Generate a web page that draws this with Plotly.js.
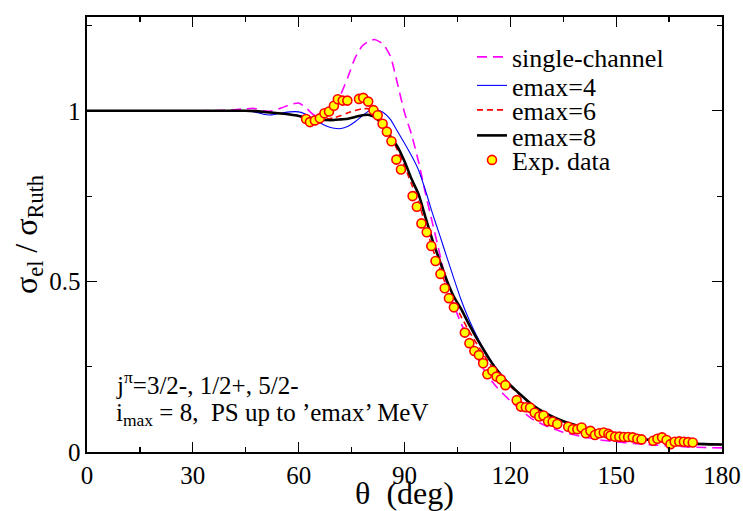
<!DOCTYPE html>
<html>
<head>
<meta charset="utf-8">
<script src="https://cdn.plot.ly/plotly-3.0.1.min.js"></script>
</head>
<body style="margin:0">
<div id="chart"></div>
<script>
// Angle grid (deg) for the calculated curves
const thetaGrid = [0,10,20,30,40,45,47.5,50,52,55,57.5,60,62,64,66,68,70,72,74,76,78,80,81.5,83,84,86,88,90,92,94,96,98,100,102,104,106,108,110,112,114,116,118,120,123,126,130,135,140,145,150,155,160,165,170,175,180];

// sigma_el / sigma_Ruth, single-channel calculation
const singleChannel = [1.0,1.0,1.0,1.0,1.002,1.006,1.007,1.0,0.999,1.008,1.018,1.023,1.01,0.99,0.982,0.99,1.015,1.05,1.1,1.155,1.19,1.205,1.209,1.202,1.195,1.16,1.08,0.995,0.93,0.85,0.755,0.668,0.58,0.492,0.43,0.378,0.333,0.29,0.25,0.218,0.192,0.17,0.15,0.123,0.098,0.077,0.058,0.046,0.036,0.030,0.025,0.021,0.018,0.015,0.013,0.012];

// emax = 4
const emax4 = [1.0,1.0,1.0,1.0,1.0,1.0,0.997,0.99,0.988,0.993,0.997,0.997,0.99,0.978,0.965,0.955,0.949,0.948,0.955,0.968,0.985,1.0,1.005,1.0,0.995,0.975,0.94,0.905,0.868,0.826,0.765,0.697,0.635,0.571,0.508,0.447,0.395,0.35,0.31,0.276,0.245,0.219,0.197,0.167,0.14,0.114,0.09,0.074,0.061,0.05,0.042,0.035,0.03,0.026,0.023,0.022];

// emax = 6
const emax6 = [1.0,1.0,1.0,1.0,1.0,1.0,0.999,0.997,0.995,0.992,0.989,0.985,0.979,0.975,0.974,0.976,0.98,0.986,0.994,1.001,1.006,1.006,0.998,0.98,0.965,0.928,0.885,0.838,0.785,0.733,0.662,0.595,0.538,0.483,0.436,0.398,0.36,0.325,0.292,0.261,0.234,0.212,0.192,0.165,0.139,0.114,0.09,0.074,0.061,0.05,0.042,0.035,0.03,0.026,0.023,0.022];

// emax = 8
const emax8 = [1.0,1.0,1.0,1.0,1.0,1.0,0.999,0.997,0.995,0.992,0.989,0.985,0.98,0.976,0.974,0.973,0.973,0.975,0.977,0.982,0.987,0.988,0.982,0.968,0.958,0.925,0.895,0.852,0.80,0.755,0.686,0.619,0.56,0.503,0.455,0.42,0.38,0.342,0.307,0.273,0.243,0.218,0.196,0.167,0.14,0.114,0.09,0.074,0.061,0.05,0.042,0.035,0.03,0.026,0.023,0.022];

// Experimental data
const expTheta = [62.1,63.2,64.6,66.0,67.3,68.6,70.0,71.1,72.5,73.8,77.1,78.3,79.7,81.2,82.4,83.8,85.0,86.3,87.7,89.0,92.3,93.5,94.8,96.3,97.6,98.8,100.2,101.4,102.6,104.0,107.1,108.4,109.8,111.1,112.3,113.5,114.9,116.1,117.3,118.6,121.8,123.0,124.4,125.6,126.9,128.2,129.4,130.7,132.0,133.3,136.4,137.7,139.0,140.2,141.4,142.7,144.0,145.2,146.5,147.8,148.4,149.7,150.9,152.2,153.4,154.7,156.0,157.2,160.5,161.7,163.0,164.3,165.4,166.6,167.9,169.2,170.4,171.7];
const expRatio = [0.976,0.967,0.972,0.978,0.993,0.998,1.015,1.034,1.030,1.030,1.035,1.038,1.027,1.002,0.987,0.962,0.939,0.911,0.857,0.828,0.750,0.719,0.670,0.644,0.604,0.560,0.522,0.480,0.451,0.424,0.350,0.319,0.296,0.284,0.260,0.228,0.238,0.221,0.213,0.196,0.152,0.133,0.131,0.130,0.115,0.104,0.107,0.090,0.089,0.082,0.074,0.067,0.067,0.072,0.055,0.062,0.050,0.055,0.057,0.053,0.048,0.045,0.045,0.044,0.044,0.043,0.039,0.037,0.033,0.039,0.043,0.035,0.023,0.030,0.031,0.030,0.029,0.028];

const xTicks = [0,30,60,90,120,150,180];
const yTicks = [0,0.5,1];
const yTickText = ['0','0.5','1'];

const FONT = 'Liberation Serif';

const traces = [
  {x: thetaGrid, y: singleChannel, name: 'single-channel', mode: 'lines', legend: 'legend',
   line: {color: '#ff00ff', width: 1.6, dash: '10px,6px', shape: 'spline', smoothing: 0.6}},
  {x: thetaGrid, y: emax4, name: 'emax=4', mode: 'lines', legend: 'legend2',
   line: {color: '#0000ff', width: 1.1, shape: 'spline', smoothing: 0.6}},
  {x: thetaGrid, y: emax6, name: 'emax=6', mode: 'lines', legend: 'legend3',
   line: {color: '#ff0000', width: 1.6, dash: '6px,4px', shape: 'spline', smoothing: 0.6}},
  {x: thetaGrid, y: emax8, name: 'emax=8', mode: 'lines', legend: 'legend4',
   line: {color: '#000000', width: 2.6, shape: 'spline', smoothing: 0.6}},
  {x: expTheta, y: expRatio, name: 'Exp. data', mode: 'markers', legend: 'legend5',
   marker: {size: 9, color: '#ffff00', line: {color: '#ff0000', width: 1.6}}}
];

const plotBottom = 452, plotH = 435, plotLeft = 87, plotW = 635;
const rowPx = [57, 85.5, 110, 135.5, 160];
const legX = (472 - plotLeft) / plotW;
function leg(i) {
  return {x: legX, xanchor: 'left', y: (plotBottom - rowPx[i]) / plotH, yanchor: 'middle',
          bgcolor: 'rgba(0,0,0,0)', borderwidth: 0, font: {family: FONT, size: 26, color: '#000'}};
}

const layout = {
  width: 743, height: 511,
  margin: {l: 87, r: 21, t: 17, b: 59},
  font: {family: FONT, color: '#000'},
  showlegend: true,
  legend: leg(0), legend2: leg(1), legend3: leg(2), legend4: leg(3), legend5: leg(4),
  xaxis: {
    range: [0, 180], tickvals: xTicks, ticktext: xTicks.map(String),
    ticks: 'inside', ticklen: 10, tickwidth: 1.2, tickcolor: '#000',
    minor: {ticks: 'inside', ticklen: 5, dtick: 15, tick0: 0, tickcolor: '#000', tickwidth: 1.2},
    showline: true, linecolor: '#000', linewidth: 1.6, mirror: 'allticks',
    showgrid: false, zeroline: false,
    tickfont: {family: FONT, size: 25, color: '#000'},
    title: {text: 'θ  (deg)', font: {family: FONT, size: 32, color: '#000'}, standoff: 4}
  },
  yaxis: {
    range: [0, 1.275], tickvals: yTicks, ticktext: yTickText,
    ticks: 'inside', ticklen: 10, tickwidth: 1.2, tickcolor: '#000',
    minor: {ticks: 'inside', ticklen: 5, dtick: 0.25, tick0: 0, tickcolor: '#000', tickwidth: 1.2},
    showline: true, linecolor: '#000', linewidth: 1.6, mirror: 'allticks',
    showgrid: false, zeroline: false,
    tickfont: {family: FONT, size: 25, color: '#000'},
    title: {text: 'σ<sub>el</sub> / σ<sub>Ruth</sub>', font: {family: FONT, size: 32, color: '#000'}, standoff: 2}
  },
  annotations: [
    {xref: 'paper', yref: 'paper', x: (114 - plotLeft) / plotW, y: (plotBottom - 383) / plotH,
     xanchor: 'left', yanchor: 'middle', showarrow: false,
     text: 'j<sup>π</sup>=3/2-, 1/2+, 5/2-', font: {family: FONT, size: 25, color: '#000'}},
    {xref: 'paper', yref: 'paper', x: (114 - plotLeft) / plotW, y: (plotBottom - 414) / plotH,
     xanchor: 'left', yanchor: 'middle', showarrow: false,
     text: 'i<sub>max</sub> = 8,  PS up to ’emax’ MeV', font: {family: FONT, size: 25, color: '#000'}}
  ]
};

Plotly.newPlot('chart', traces, layout, {displayModeBar: false, staticPlot: true});
</script>
</body>
</html>
